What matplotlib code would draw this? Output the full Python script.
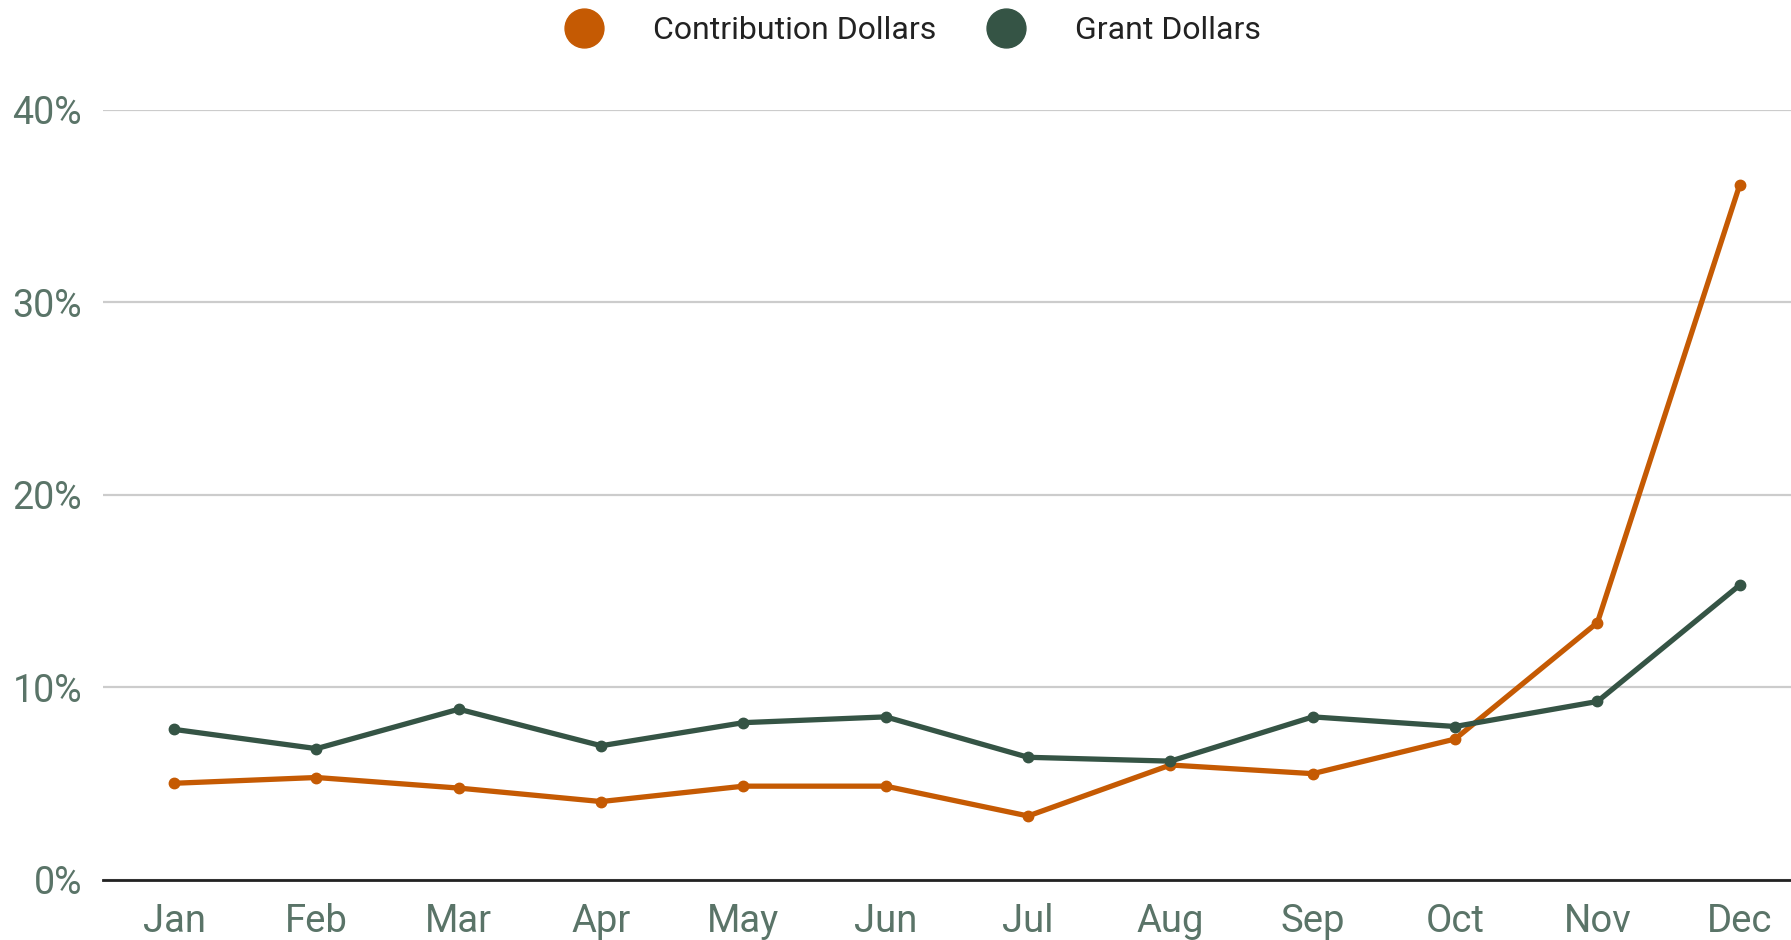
import matplotlib
matplotlib.use("Agg")
import matplotlib.pyplot as plt
from matplotlib.lines import Line2D
from matplotlib.ticker import FuncFormatter

plt.rcParams['font.family'] = ['Roboto', 'DejaVu Sans']

# monthly share of yearly total (%)
months = ['Jan', 'Feb', 'Mar', 'Apr', 'May', 'Jun', 'Jul', 'Aug', 'Sep', 'Oct', 'Nov', 'Dec']
contribution = [5.0, 5.3, 4.75, 4.05, 4.85, 4.85, 3.3, 5.95, 5.5, 7.3, 13.35, 36.1]
grant = [7.8, 6.8, 8.85, 6.95, 8.15, 8.45, 6.35, 6.15, 8.45, 7.95, 9.25, 15.3]
yticks = [0, 10, 20, 30, 40]

orange = '#C55A03'
green = '#355445'
tickcol = '#5a7468'

W, H = 1791, 940
fig = plt.figure(figsize=(W / 100, H / 100), dpi=100)
# axes box in pixels: left 103, right edge of image, 0% at 879.5, 40% at 109.7
ax = fig.add_axes([103 / W, 1 - 879.5 / H, (W - 103) / W, (879.5 - 109.7) / H])

x = range(len(months))
ax.plot(x, contribution, color=orange, lw=3.8, marker='o', ms=7.5, zorder=3)
ax.plot(x, grant, color=green, lw=3.8, marker='o', ms=7.5, zorder=3)

ax.set_xlim(-0.5, 11.36)
ax.set_ylim(0, 40)
ax.set_yticks(yticks)
ax.yaxis.set_major_formatter(FuncFormatter(lambda v, p: '%d%%' % v))
ax.set_xticks(list(x))
ax.set_xticklabels(months)
ax.grid(axis='y', color='#cccccc', lw=1.6)
ax.set_axisbelow(True)
for s in ['top', 'right', 'left']:
    ax.spines[s].set_visible(False)
ax.spines['bottom'].set_color('#222222')
ax.spines['bottom'].set_linewidth(2)
ax.spines['bottom'].set_zorder(4)
ax.tick_params(axis='both', length=0, labelsize=27, colors=tickcol)
ax.tick_params(axis='x', labelsize=27.5, pad=17)
ax.tick_params(axis='y', pad=15)

handles = [Line2D([], [], ls='none', marker='o', ms=28, color=orange),
           Line2D([], [], ls='none', marker='o', ms=28, color=green)]
fig.legend(handles, ['Contribution Dollars', 'Grant Dollars'], loc='center',
           bbox_to_anchor=(913 / W, 1 - 30.5 / H), ncol=2, frameon=False,
           fontsize=23, handletextpad=1.55, columnspacing=1.6, handlelength=1.2,
           labelcolor='#222222')

fig.savefig('out.png', dpi=100)
